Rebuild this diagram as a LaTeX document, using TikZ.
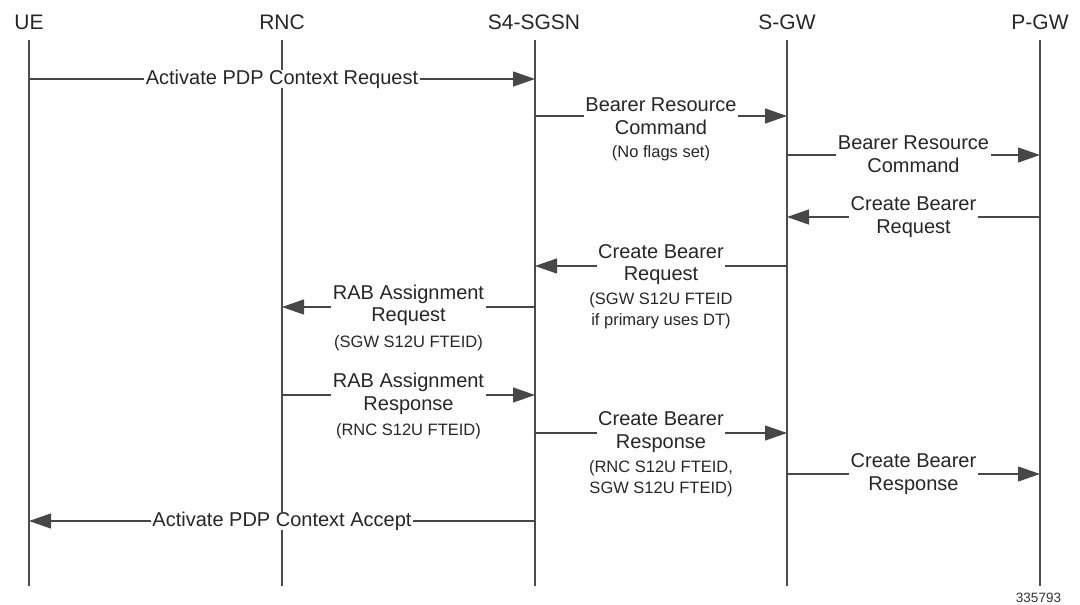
\documentclass[tikz,border=0pt]{standalone}
\usepackage{fontspec}
\setmainfont{Liberation Sans}
\usetikzlibrary{arrows.meta}
\begin{document}
\begin{tikzpicture}[x=1pt,y=-1pt,
  hdr/.style={font=\fontsize{21}{24}\selectfont, text=black!85, inner sep=0pt},
  life/.style={draw=black!70, line width=1.2pt},
  msg/.style={draw=black!72, line width=1.2pt, -{Triangle[length=22pt,width=15pt]}},
  lbl/.style={fill=white, inner xsep=1.5pt, inner ysep=0pt, align=center, font=\fontsize{20}{22.5}\selectfont, text=black!85},
  note/.style={align=center, inner sep=0pt, font=\fontsize{16.5}{21}\selectfont, text=black!85},
  tag/.style={font=\fontsize{13.5}{15}\selectfont, text=black!80, inner sep=0pt}]
\useasboundingbox (0,0) rectangle (1080,605);
% headers
\node[hdr] (UE) at (29,22) {UE};
\node[hdr] (RNC) at (282,22) {RNC};
\node[hdr] (SG) at (534,22) {S4-SGSN};
\node[hdr] (SW) at (787,22) {S-GW};
\node[hdr] (PW) at (1040,22) {P-GW};
% lifeline ends
\foreach \n/\x in {UE/29,RNC/282,SG/535,SW/787,PW/1040}{
  \coordinate (\n t) at (\x,40);
  \coordinate (\n b) at (\x,586);
  \draw[life] (\n t) -- (\n b);
}
% message rows
\foreach \i/\y in {1/79,2/116,3/155,4/217,5/266,6/307,7/395,8/433,9/474,10/521}{
  \coordinate (r\i) at (0,\y);
}
\draw[msg] (UEt |- r1) -- (SGt |- r1);
\draw[msg] (SGt |- r2) -- (SWt |- r2);
\draw[msg] (SWt |- r3) -- (PWt |- r3);
\draw[msg] (PWt |- r4) -- (SWt |- r4);
\draw[msg] (SWt |- r5) -- (SGt |- r5);
\draw[msg] (SGt |- r6) -- (RNCt |- r6);
\draw[msg] (RNCt |- r7) -- (SGt |- r7);
\draw[msg] (SGt |- r8) -- (SWt |- r8);
\draw[msg] (SWt |- r9) -- (PWt |- r9);
\draw[msg] (SGt |- r10) -- (UEt |- r10);
% labels
\node[lbl] (l1) at (282,79) {Activate PDP Context Request};
\node[lbl] (l2) at (661,116) {Bearer Resource\\Command};
\node[note] (n2) at (661,153) {(No flags set)};
\node[lbl] (l3) at (913.5,154) {Bearer Resource\\Command};
\node[lbl] (l4) at (913.5,217) {Create Bearer\\Request};
\node[lbl] (l5) at (661,264.5) {Create Bearer\\Request};
\node[note] (n5) at (661,311) {(SGW S12U FTEID\\if primary uses DT)};
\node[lbl] (l6) at (408.5,305.5) {RAB Assignment\\Request};
\node[note] (n6) at (408.5,343) {(SGW S12U FTEID)};
\node[lbl] (l7) at (408.5,394) {RAB Assignment\\Response};
\node[note] (n7) at (408.5,431.5) {(RNC S12U FTEID)};
\node[lbl] (l8) at (661,432) {Create Bearer\\Response};
\node[note] (n8) at (661,479) {(RNC S12U FTEID,\\SGW S12U FTEID)};
\node[lbl] (l9) at (913.5,474) {Create Bearer\\Response};
\node[lbl] (l10) at (282,521) {Activate PDP Context Accept};
\node[tag] (id) at (1038.5,598) {335793};
\end{tikzpicture}
\end{document}
